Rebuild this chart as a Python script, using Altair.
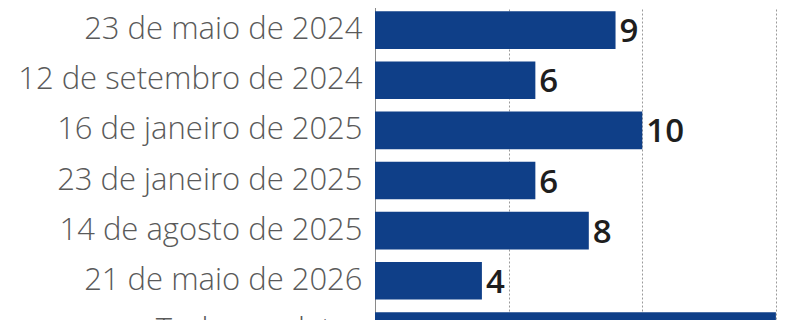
import altair as alt
import pandas as pd

categories = [
    "23 de maio de 2024",
    "12 de setembro de 2024",
    "16 de janeiro de 2025",
    "23 de janeiro de 2025",
    "14 de agosto de 2025",
    "21 de maio de 2026",
    "Todas as datas",
]
values = [9, 6, 10, 6, 8, 4, 15]

df = pd.DataFrame({"cat": categories, "val": values})

xmax = 15.64

x_enc = alt.X(
    "val:Q",
    scale=alt.Scale(domain=[0, xmax], nice=False),
    axis=alt.Axis(
        values=[5, 10, 15],
        labels=False,
        ticks=False,
        domain=False,
        grid=True,
        gridColor="#9a9a9a",
        gridDash=[2, 2],
        gridWidth=1,
        title=None,
    ),
)
y_enc = alt.Y(
    "cat:N",
    sort=categories,
    scale=alt.Scale(domain=categories, range=[-3, 348], paddingInner=0.25, paddingOuter=0.125),
    axis=alt.Axis(
        title=None,
        ticks=False,
        domain=True,
        domainColor="#8a8a8a",
        domainWidth=1,
        labelFont="Open Sans",
        labelFontWeight=300,
        labelFontSize=31,
        labelColor="#5a5a5a",
        labelPadding=13,
        labelLimit=400,
        grid=False,
    ),
)

bars = alt.Chart(df).mark_bar(color="#0f3f88").encode(x=x_enc, y=y_enc)

labels = alt.Chart(df).mark_text(
    align="left",
    baseline="middle",
    dx=4,
    dy=2,
    font="Open Sans",
    fontWeight=600,
    fontSize=33,
    color="#1e1e1e",
).encode(
    x=alt.X("val:Q", scale=alt.Scale(domain=[0, xmax], nice=False)),
    y=alt.Y("cat:N", sort=categories),
    text="val:Q",
)

chart = (
    alt.layer(bars, labels)
    .properties(
        width=418,
        height=312,
        autosize=alt.AutoSizeParams(type="none"),
        padding={"left": 367, "top": 0, "right": 0, "bottom": 0},
    )
    .configure_view(stroke=None)
)

chart.save("out.html", embed_options={"renderer": "svg", "actions": False})
